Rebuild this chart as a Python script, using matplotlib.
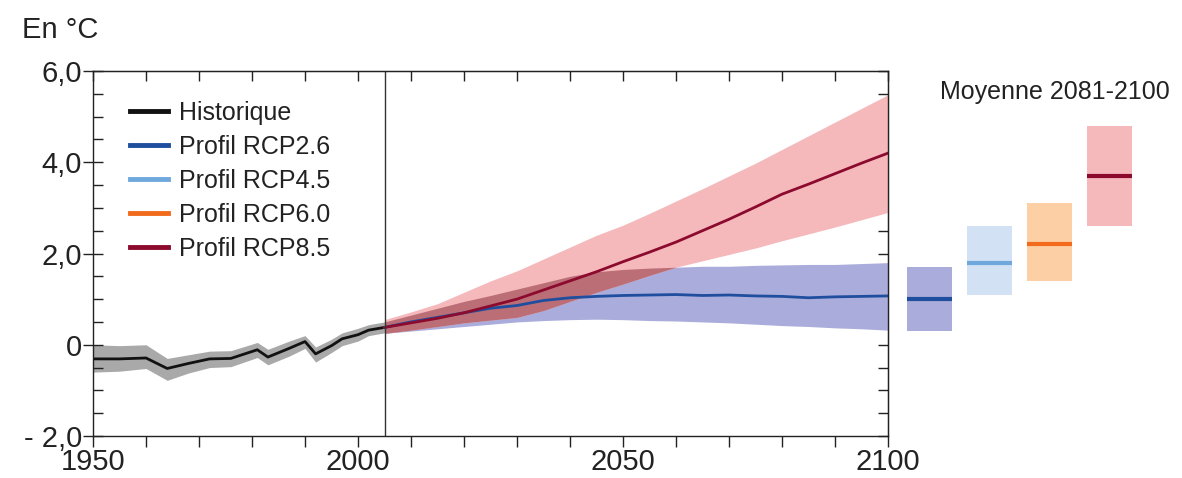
import numpy as np
import matplotlib.pyplot as plt
from matplotlib.ticker import MultipleLocator, FixedLocator, NullFormatter

# --- Données ---
hist_years = [1950, 1955, 1960, 1964, 1968, 1972, 1976, 1981, 1983, 1987, 1990, 1992, 1995, 1997, 2000, 2002, 2005]
hist_mean = [-0.31, -0.31, -0.29, -0.52, -0.41, -0.31, -0.30, -0.11, -0.27, -0.08, 0.07, -0.20, -0.02, 0.13, 0.22, 0.32, 0.38]
hist_lo = [-0.60, -0.58, -0.52, -0.78, -0.62, -0.50, -0.48, -0.28, -0.44, -0.25, -0.08, -0.38, -0.17, -0.02, 0.08, 0.20, 0.26]
hist_hi = [0.00, -0.02, 0.00, -0.30, -0.22, -0.14, -0.13, 0.05, -0.10, 0.08, 0.20, -0.05, 0.12, 0.26, 0.36, 0.44, 0.50]

proj_years = [2005, 2010, 2015, 2020, 2025, 2030, 2035, 2040, 2045, 2050,
              2055, 2060, 2065, 2070, 2075, 2080, 2085, 2090, 2095, 2100]

rcp26_mean = [0.38, 0.50, 0.60, 0.70, 0.80, 0.86, 0.97, 1.03, 1.06, 1.08,
              1.09, 1.10, 1.08, 1.09, 1.07, 1.06, 1.03, 1.05, 1.06, 1.07]
rcp26_lo = [0.25, 0.30, 0.35, 0.40, 0.45, 0.50, 0.53, 0.55, 0.56, 0.55,
            0.53, 0.52, 0.50, 0.48, 0.45, 0.42, 0.40, 0.37, 0.35, 0.32]
rcp26_hi = [0.50, 0.65, 0.80, 0.95, 1.08, 1.22, 1.36, 1.50, 1.60, 1.65,
            1.68, 1.70, 1.72, 1.72, 1.74, 1.75, 1.76, 1.76, 1.78, 1.80]

rcp85_mean = [0.38, 0.48, 0.58, 0.70, 0.85, 1.00, 1.20, 1.40, 1.60, 1.82,
              2.03, 2.25, 2.50, 2.75, 3.02, 3.30, 3.52, 3.75, 3.98, 4.20]
rcp85_lo = [0.25, 0.32, 0.40, 0.48, 0.54, 0.60, 0.75, 0.95, 1.15, 1.33,
            1.52, 1.70, 1.84, 1.98, 2.12, 2.28, 2.43, 2.58, 2.74, 2.90]
rcp85_hi = [0.55, 0.72, 0.90, 1.15, 1.40, 1.62, 1.88, 2.14, 2.40, 2.62,
            2.88, 3.15, 3.42, 3.70, 3.98, 4.28, 4.58, 4.88, 5.18, 5.48]

# Moyenne 2081-2100
box_names = ['RCP2.6', 'RCP4.5', 'RCP6.0', 'RCP8.5']
box_mean = [1.0, 1.8, 2.2, 3.7]
box_lo = [0.3, 1.1, 1.4, 2.6]
box_hi = [1.7, 2.6, 3.1, 4.8]

# --- Couleurs ---
c_hist, c_hist_band = '#111111', '#a9a9a9'
c_26, c_26_band = '#1f4e9e', '#aaaddb'
c_45, c_45_band = '#6fa8dc', '#d2e2f4'
c_60, c_60_band = '#f26b1d', '#fccfa4'
c_85, c_85_band = '#8b0a2e', '#f5b9bc'
c_overlap = '#bc6e76'
box_fill = [c_26_band, c_45_band, c_60_band, c_85_band]
box_line = [c_26, c_45, c_60, c_85]
c_axis = '#222222'

plt.rcParams['font.family'] = ['Liberation Sans', 'DejaVu Sans']

W, H = 1182, 478
fig = plt.figure(figsize=(W / 100, H / 100), dpi=100)
ax = fig.add_axes([93 / W, 1 - 436 / H, (888 - 93) / W, (436 - 71) / H])

# bandes
ax.fill_between(hist_years, hist_lo, hist_hi, color=c_hist_band, lw=0)
ax.fill_between(proj_years, rcp26_lo, rcp26_hi, color=c_26_band, lw=0)
ax.fill_between(proj_years, rcp85_lo, rcp85_hi, color=c_85_band, lw=0)
ov_lo = np.maximum(rcp26_lo, rcp85_lo)
ov_hi = np.minimum(rcp26_hi, rcp85_hi)
ax.fill_between(proj_years, ov_lo, ov_hi, where=ov_hi > ov_lo,
                color=c_overlap, lw=0, interpolate=True)

ax.plot(hist_years, hist_mean, color=c_hist, lw=2)
ax.plot(proj_years, rcp26_mean, color=c_26, lw=2)
ax.plot(proj_years, rcp85_mean, color=c_85, lw=2)
ax.axvline(2005, color='#333333', lw=1)

ax.set_xlim(1950, 2100)
ax.set_ylim(-2, 6)
ax.xaxis.set_major_locator(FixedLocator([1950, 2000, 2050, 2100]))
ax.xaxis.set_minor_locator(MultipleLocator(10))
ax.yaxis.set_major_locator(FixedLocator([-2, 0, 2, 4, 6]))
ax.yaxis.set_minor_locator(MultipleLocator(0.5))
ax.set_yticklabels(['- 2,0', '0', '2,0', '4,0', '6,0'])
ax.set_xticklabels(['1950', '2000', '2050', '2100'])
ax.tick_params(which='both', colors=c_axis, labelcolor=c_axis, labelsize=21, width=1)
ax.tick_params(axis='x', which='both', direction='out', length=8, pad=1)
ax.tick_params(axis='y', which='major', direction='inout', length=14, pad=1)
ax.tick_params(axis='y', which='minor', direction='in', length=7)
for s in ax.spines.values():
    s.set_color(c_axis)
    s.set_linewidth(1)

# graduations intérieures en haut et à droite
top = ax.secondary_xaxis('top')
top.xaxis.set_major_locator(MultipleLocator(10))
top.xaxis.set_major_formatter(NullFormatter())
top.tick_params(direction='in', length=7, width=1, colors=c_axis)
right = ax.secondary_yaxis('right')
right.yaxis.set_major_locator(MultipleLocator(0.5))
right.yaxis.set_major_formatter(NullFormatter())
right.tick_params(direction='in', length=7, width=1, colors=c_axis)

# légende
handles = [plt.Line2D([], [], color=c, lw=3.5) for c in [c_hist, c_26, c_45, c_60, c_85]]
labels = ['Historique', 'Profil RCP2.6', 'Profil RCP4.5', 'Profil RCP6.0', 'Profil RCP8.5']
ax.legend(handles, labels, loc='upper left', bbox_to_anchor=(0.047, 0.918), frameon=False,
          fontsize=18, handlelength=1.5, handletextpad=0.45, labelspacing=0.4,
          borderpad=0, borderaxespad=0, labelcolor=c_axis)

fig.text(22 / W, 1 - 30 / H, 'En °C', fontsize=21, va='center', ha='left', color=c_axis)

# boîtes 2081-2100
ax2 = fig.add_axes([893.5 / W, 1 - 436 / H, 252 / W, (436 - 71) / H])
xs = np.arange(len(box_names))
ax2.bar(xs, np.array(box_hi) - np.array(box_lo), bottom=box_lo, width=0.75,
        color=box_fill, lw=0)
ax2.hlines(box_mean, xs - 0.375, xs + 0.375, colors=box_line, lw=3)
ax2.set_xlim(-0.6, 3.6)
ax2.set_ylim(-2, 6)
ax2.axis('off')
fig.text(940 / W, 1 - 92 / H, 'Moyenne 2081-2100', fontsize=18, va='center', ha='left',
         color=c_axis)

fig.savefig('out.png', dpi=100)
